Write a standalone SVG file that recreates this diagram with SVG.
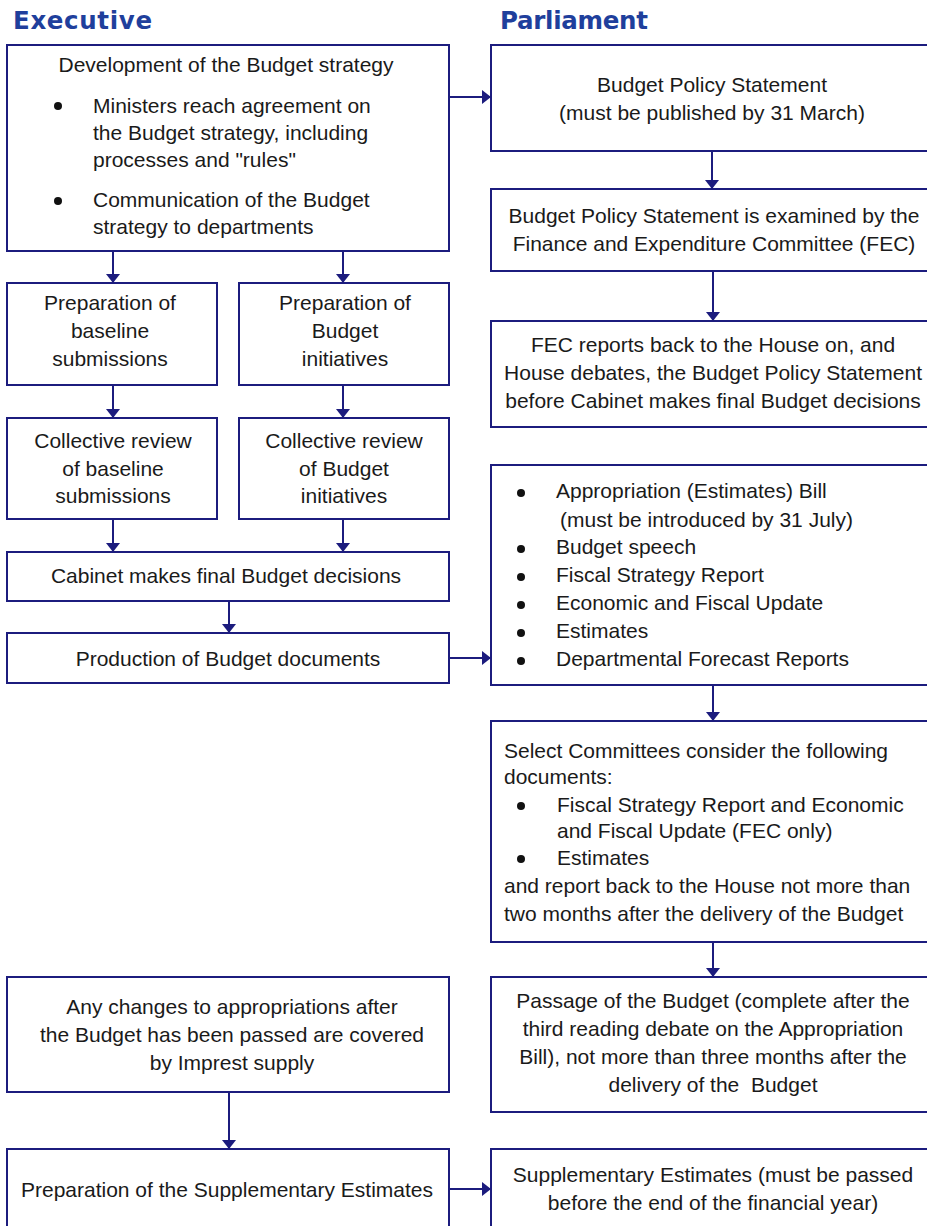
<svg xmlns="http://www.w3.org/2000/svg" width="927" height="1226" viewBox="0 0 927 1226">
<style>
.box{fill:#ffffff;stroke:#1c1c7e;stroke-width:2}
.t{font-family:"Liberation Sans",Arial,sans-serif;font-size:21px;fill:#1a1a1a}
.c{text-anchor:middle}
.h{font-family:"DejaVu Sans",Verdana,sans-serif;font-weight:bold;font-size:24.5px;fill:#1f3f9c}
.ln{stroke:#1c1c7e;stroke-width:2;fill:none;marker-end:url(#ah)}
.b{fill:#111111}
</style>
<defs>
<marker id="ah" markerUnits="userSpaceOnUse" markerWidth="10" markerHeight="14" refX="9" refY="7" orient="auto">
<path d="M0,0 L9,7 L0,14 Z" fill="#1c1c7e"/>
</marker>
</defs>
<rect width="927" height="1226" fill="#ffffff"/>
<text class="h" x="13" y="29" textLength="139">Executive</text>
<text class="h" x="500" y="29" textLength="148">Parliament</text>

<g id="n-strategy">
<rect class="box" x="7" y="45" width="442" height="206"/>
<text class="t c" x="226" y="72">Development of the Budget strategy</text>
<circle class="b" cx="58" cy="106" r="4"/>
<text class="t" x="93" y="113">Ministers reach agreement on</text>
<text class="t" x="93" y="140">the Budget strategy, including</text>
<text class="t" x="93" y="167">processes and "rules"</text>
<circle class="b" cx="58" cy="201" r="4"/>
<text class="t" x="93" y="207">Communication of the Budget</text>
<text class="t" x="93" y="234">strategy to departments</text>
</g>

<g id="n-bps">
<rect class="box" x="491" y="45" width="446" height="106"/>
<text class="t c" x="712" y="92">Budget Policy Statement</text>
<text class="t c" x="712" y="120">(must be published by 31 March)</text>
</g>

<g id="n-bps-exam">
<rect class="box" x="491" y="189" width="446" height="82"/>
<text class="t c" x="714" y="223">Budget Policy Statement is examined by the</text>
<text class="t c" x="714" y="251">Finance and Expenditure Committee (FEC)</text>
</g>

<g id="n-fec">
<rect class="box" x="491" y="321" width="446" height="106"/>
<text class="t c" x="713" y="352">FEC reports back to the House on, and</text>
<text class="t c" x="713" y="380">House debates, the Budget Policy Statement</text>
<text class="t c" x="713" y="408">before Cabinet makes final Budget decisions</text>
</g>

<g id="n-prep-baseline">
<rect class="box" x="7" y="283" width="210" height="102"/>
<text class="t c" x="110" y="310">Preparation of</text>
<text class="t c" x="110" y="338">baseline</text>
<text class="t c" x="110" y="366">submissions</text>
</g>

<g id="n-prep-init">
<rect class="box" x="239" y="283" width="210" height="102"/>
<text class="t c" x="345" y="310">Preparation of</text>
<text class="t c" x="345" y="338">Budget</text>
<text class="t c" x="345" y="366">initiatives</text>
</g>

<g id="n-rev-baseline">
<rect class="box" x="7" y="418" width="210" height="101"/>
<text class="t c" x="113" y="448">Collective review</text>
<text class="t c" x="113" y="476">of baseline</text>
<text class="t c" x="113" y="503">submissions</text>
</g>

<g id="n-rev-init">
<rect class="box" x="239" y="418" width="210" height="101"/>
<text class="t c" x="344" y="448">Collective review</text>
<text class="t c" x="344" y="476">of Budget</text>
<text class="t c" x="344" y="503">initiatives</text>
</g>

<g id="n-cabinet">
<rect class="box" x="7" y="552" width="442" height="49"/>
<text class="t c" x="226" y="583">Cabinet makes final Budget decisions</text>
</g>

<g id="n-production">
<rect class="box" x="7" y="633" width="442" height="50"/>
<text class="t c" x="228" y="666">Production of Budget documents</text>
</g>

<g id="n-docs">
<rect class="box" x="491" y="465" width="446" height="220"/>
<circle class="b" cx="521" cy="493" r="4"/>
<text class="t" x="556" y="498">Appropriation (Estimates) Bill</text>
<text class="t" x="560" y="527">(must be introduced by 31 July)</text>
<circle class="b" cx="521" cy="549" r="4"/>
<text class="t" x="556" y="554">Budget speech</text>
<circle class="b" cx="521" cy="577" r="4"/>
<text class="t" x="556" y="582">Fiscal Strategy Report</text>
<circle class="b" cx="521" cy="605" r="4"/>
<text class="t" x="556" y="610">Economic and Fiscal Update</text>
<circle class="b" cx="521" cy="633" r="4"/>
<text class="t" x="556" y="638">Estimates</text>
<circle class="b" cx="521" cy="661" r="4"/>
<text class="t" x="556" y="666">Departmental Forecast Reports</text>
</g>

<g id="n-select">
<rect class="box" x="491" y="721" width="446" height="221"/>
<text class="t" x="504" y="758">Select Committees consider the following</text>
<text class="t" x="504" y="784">documents:</text>
<circle class="b" cx="521" cy="806" r="4"/>
<text class="t" x="557" y="812">Fiscal Strategy Report and Economic</text>
<text class="t" x="557" y="838">and Fiscal Update (FEC only)</text>
<circle class="b" cx="521" cy="859" r="4"/>
<text class="t" x="557" y="865">Estimates</text>
<text class="t" x="504" y="893">and report back to the House not more than</text>
<text class="t" x="504" y="921">two months after the delivery of the Budget</text>
</g>

<g id="n-passage">
<rect class="box" x="491" y="977" width="446" height="135"/>
<text class="t c" x="713" y="1008">Passage of the Budget (complete after the</text>
<text class="t c" x="713" y="1036">third reading debate on the Appropriation</text>
<text class="t c" x="713" y="1064">Bill), not more than three months after the</text>
<text class="t c" x="713" y="1092" xml:space="preserve">delivery of the  Budget</text>
</g>

<g id="n-changes">
<rect class="box" x="7" y="977" width="442" height="115"/>
<text class="t c" x="232" y="1014">Any changes to appropriations after</text>
<text class="t c" x="232" y="1042">the Budget has been passed are covered</text>
<text class="t c" x="232" y="1070">by Imprest supply</text>
</g>

<g id="n-prep-supp">
<rect class="box" x="7" y="1149" width="442" height="100"/>
<text class="t c" x="227" y="1197">Preparation of the Supplementary Estimates</text>
</g>

<g id="n-supp">
<rect class="box" x="491" y="1149" width="446" height="100"/>
<text class="t c" x="713" y="1182">Supplementary Estimates (must be passed</text>
<text class="t c" x="713" y="1210">before the end of the financial year)</text>
</g>

<g id="connectors">
<line class="ln" x1="449" y1="97" x2="491" y2="97"/>
<line class="ln" x1="712" y1="151" x2="712" y2="189"/>
<line class="ln" x1="713" y1="271" x2="713" y2="321"/>
<line class="ln" x1="113" y1="251" x2="113" y2="283"/>
<line class="ln" x1="343" y1="251" x2="343" y2="283"/>
<line class="ln" x1="113" y1="385" x2="113" y2="418"/>
<line class="ln" x1="343" y1="385" x2="343" y2="418"/>
<line class="ln" x1="113" y1="519" x2="113" y2="552"/>
<line class="ln" x1="343" y1="519" x2="343" y2="552"/>
<line class="ln" x1="229" y1="601" x2="229" y2="633"/>
<line class="ln" x1="449" y1="658" x2="491" y2="658"/>
<line class="ln" x1="713" y1="685" x2="713" y2="721"/>
<line class="ln" x1="713" y1="942" x2="713" y2="977"/>
<line class="ln" x1="229" y1="1092" x2="229" y2="1149"/>
<line class="ln" x1="449" y1="1189" x2="491" y2="1189"/>
</g>
</svg>
